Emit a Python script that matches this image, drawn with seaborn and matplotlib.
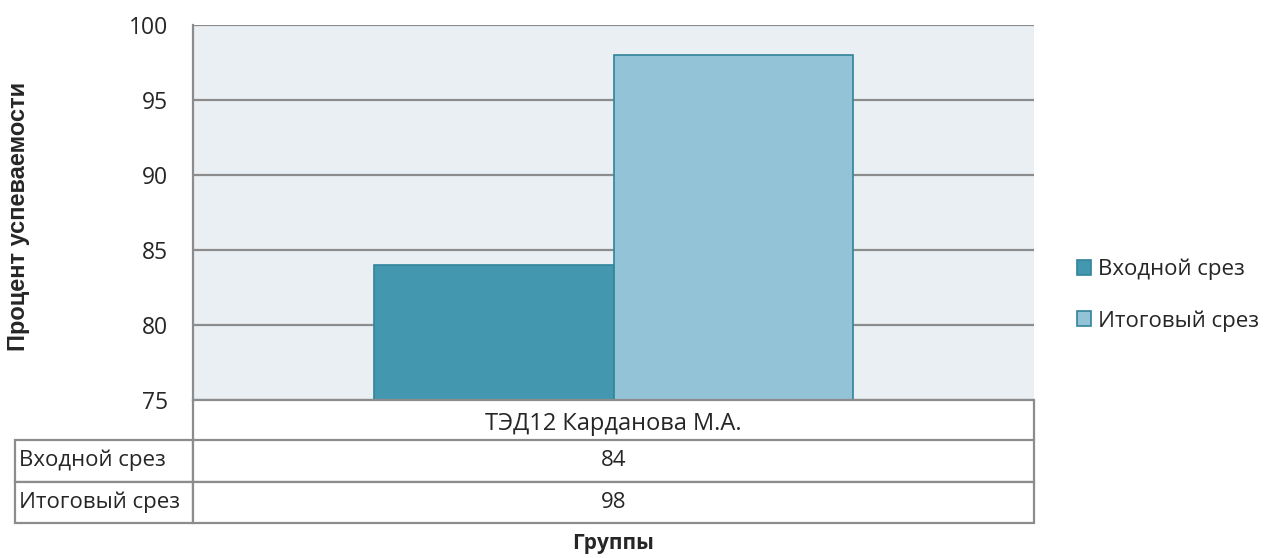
import matplotlib
matplotlib.use("Agg")
import matplotlib.pyplot as plt
import pandas as pd
import seaborn as sns

# chart values
groups = ["ТЭД12 Карданова М.А."]
series_names = ["Входной срез", "Итоговый срез"]
entry_scores = [84]
final_scores = [98]
y_ticks = [75, 80, 85, 90, 95, 100]

colors = ["#4398B0", "#93C3D6"]
edge = "#31849B"
grid_gray = "#8C8C8C"

df = pd.DataFrame({
    "group": groups * 2,
    "series": [series_names[0]] * len(groups) + [series_names[1]] * len(groups),
    "value": entry_scores + final_scores,
})

sns.set_style("white")
plt.rcParams["font.family"] = ["Open Sans", "DejaVu Sans"]

fig = plt.figure(figsize=(12.69, 5.58), dpi=100)
ax = fig.add_axes([193 / 1269, 1 - 400 / 558, 841 / 1269, 375 / 558])
ax.set_facecolor("#E9EFF3")

sns.barplot(data=df, x="group", y="value", hue="series", palette=colors,
            saturation=1, width=0.57, edgecolor=edge, linewidth=1.2, ax=ax)

ax.set_ylim(75, 100)
ax.set_yticks(y_ticks)
ax.set_xlim(-0.5, 0.5)
ax.yaxis.grid(True, color=grid_gray, linewidth=1.6)
ax.set_axisbelow(True)
for s in ["top", "right"]:
    ax.spines[s].set_visible(False)
for s in ["left", "bottom"]:
    ax.spines[s].set_color(grid_gray)
    ax.spines[s].set_linewidth(1.6)
ax.tick_params(axis="y", length=8, width=1.6, color=grid_gray, labelsize=16.5, pad=10)
ax.tick_params(axis="x", length=0, labelsize=17, pad=9)

# header cell borders under the plot area
tbl_top = (400 - 440) / 375
ax.plot([0, 0], [0, tbl_top], color=grid_gray, lw=1.6, transform=ax.transAxes, clip_on=False)
ax.plot([1, 1], [0, tbl_top], color=grid_gray, lw=1.6, transform=ax.transAxes, clip_on=False)

# data table
left = (15 - 193) / 841
cell_text = [[series_names[0], str(entry_scores[0])],
             [series_names[1], str(final_scores[0])]]
table = ax.table(cellText=cell_text, colWidths=[-left, 1.0], cellLoc="center",
                 bbox=[left, (400 - 523) / 375, 1 - left, (523 - 440) / 375])
table.auto_set_font_size(False)
table.set_fontsize(16)
for (r, c), cell in table.get_celld().items():
    cell.set_edgecolor(grid_gray)
    cell.set_linewidth(1.6)
    cell.PAD = 0.02
    cell.get_text().set_ha("left" if c == 0 else "center")

ax.set_xlabel("Группы", fontsize=15, fontweight="bold", va="center")
ax.xaxis.set_label_coords(0.5, (400 - 543) / 375)
ax.set_ylabel("Процент успеваемости", fontsize=17, fontweight="bold", va="center",
              family=["Liberation Sans", "DejaVu Sans"])
ax.yaxis.set_label_coords((19 - 193) / 841, (400 - 216) / 375)

handles, labels = ax.get_legend_handles_labels()
ax.legend(handles, labels, loc="center left", frameon=False,
          bbox_to_anchor=(1057 / 1269, 1 - 295 / 558), bbox_transform=fig.transFigure,
          fontsize=16, handlelength=0.65, handleheight=0.65, handletextpad=0.3,
          labelspacing=1.35)

fig.savefig("out.png", dpi=100)
plt.close(fig)
